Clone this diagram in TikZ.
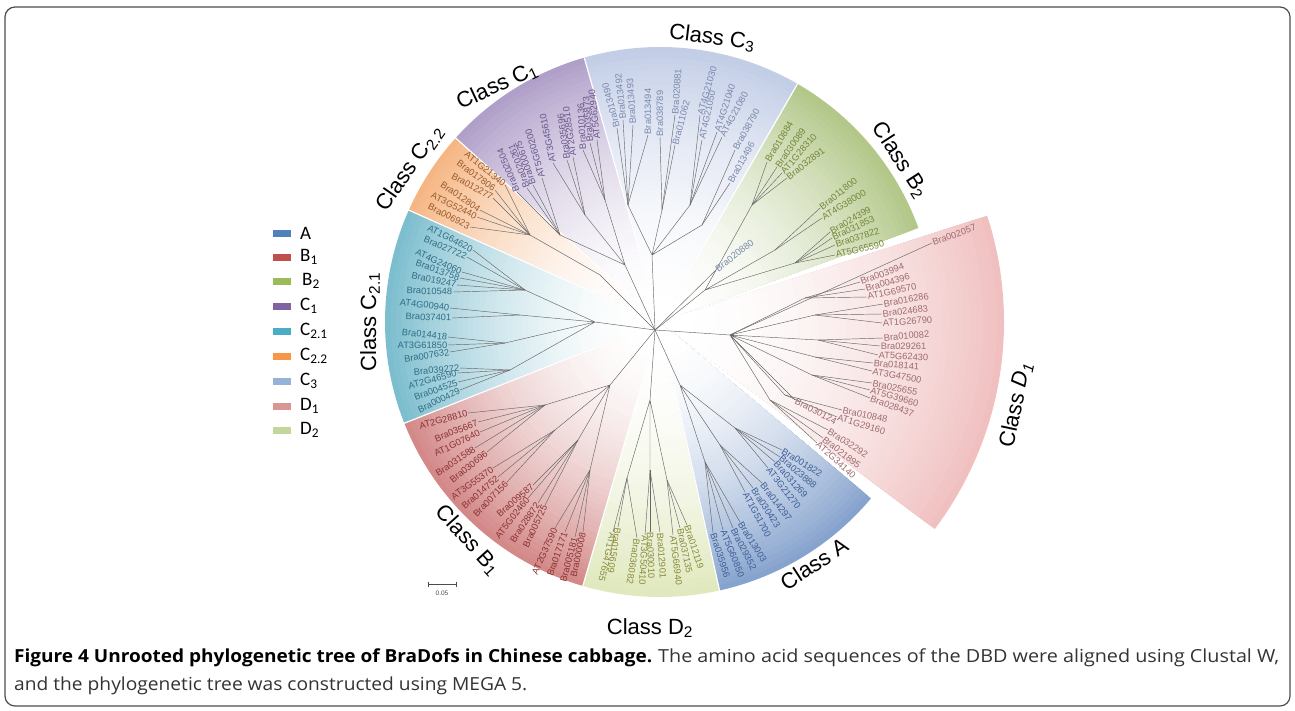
\documentclass[tikz,border=0pt]{standalone}
\usepackage{fontspec}
\usepackage{graphicx}
\setmainfont{Liberation Sans}
\newfontfamily\capfont{Open Sans}
\newfontfamily\legfont{Carlito}
\definecolor{cA}{HTML}{4F81BD}\definecolor{cBa}{HTML}{C0504D}\definecolor{cBb}{HTML}{9BBB59}
\definecolor{cCa}{HTML}{8064A2}\definecolor{cCba}{HTML}{4BACC6}\definecolor{cCbb}{HTML}{F79646}
\definecolor{cCc}{HTML}{95B3D7}\definecolor{cDa}{HTML}{D99694}\definecolor{cDb}{HTML}{C3D69B}
% sector outer colours
\definecolor{oA}{HTML}{86A3CE}\definecolor{oBa}{HTML}{D38988}\definecolor{oBb}{HTML}{B2C788}
\definecolor{oCa}{HTML}{B09FC9}\definecolor{oCba}{HTML}{7CBDCE}\definecolor{oCbb}{HTML}{F6B684}
\definecolor{oCc}{HTML}{C2CDE6}\definecolor{oDa}{HTML}{F0C0C0}\definecolor{oDb}{HTML}{E0E8BD}
% text colours
\definecolor{tA}{HTML}{3D5F95}\definecolor{tBa}{HTML}{8B3232}\definecolor{tBb}{HTML}{76853A}
\definecolor{tCa}{HTML}{6A568C}\definecolor{tCba}{HTML}{2F6E86}\definecolor{tCbb}{HTML}{9A5A2A}
\definecolor{tCc}{HTML}{7A89AD}\definecolor{tDa}{HTML}{9E6B6E}\definecolor{tDb}{HTML}{8A8A3C}
\newcommand\gradsector[4]{%
 \foreach \i in {50,49,...,1}{%
  \pgfmathsetmacro\rr{#4*(\i/50)}%
  \pgfmathtruncatemacro\pp{100*(\i/50)^2}%
  \fill[#1!\pp!white] (C) -- ++(#2:\rr) arc[start angle=#2, end angle=#3, radius=\rr] -- cycle;
 }}
\tikzset{
 lf/.style={font=\fontsize{9.3}{10}\selectfont, inner sep=0.6pt, text=#1},
 br/.style={draw=black!60, line width=0.45pt},
 cls/.style={font=\fontsize{22}{24}\selectfont, inner sep=0pt},
 legbox/.style={minimum width=18pt, minimum height=7pt, inner sep=0pt, draw=none},
 legtxt/.style={font=\legfont\fontsize{19}{20}\selectfont, anchor=west, inner sep=0pt},
 seam/.style={draw=white, line width=1.2pt},
 captxt/.style={anchor=base west, inner sep=0pt, font=\capfont\fontsize{18}{20}\selectfont, text=black!80}
}
\newcommand\LW[5]{\node[lf=#5,anchor=west,rotate=#4] (#1) at (#2,#3) {#1};}
\newcommand\LE[5]{\node[lf=#5,anchor=east,rotate=#4] (#1) at (#2,#3) {#1};}
\newcommand\BW[2]{\draw[br] (#1) -- (#2.west);}
\newcommand\BE[2]{\draw[br] (#1) -- (#2.east);}
\begin{document}
\begin{tikzpicture}[x=1pt,y=-1pt]
\useasboundingbox (0,0) rectangle (1295,710);
\coordinate (C) at (660,322);
% ---------- sectors ----------
\gradsector{oBb}{-20}{-60}{275}
\gradsector{oCc}{-60}{-106}{275}
\gradsector{oCa}{-106}{-138}{275}
\gradsector{oCbb}{-138}{-156}{275}
\gradsector{oCba}{-156}{-201.6}{275}
\gradsector{oBa}{-201.6}{-253.7}{275}
\gradsector{oDb}{-253.7}{-282.5}{275}
\gradsector{oA}{-282.5}{-320.1}{275}
\gradsector{oDa}{37}{-18}{344}
\foreach \a in {-60,-106,-138,-156,-201.6,-253.7,-282.5}{\draw[seam] (C) -- ++(\a:276);}
% ---------- tree: internal nodes ----------
\coordinate (O) at (655,330);
\coordinate (nC3) at (652,255);\coordinate (c3a) at (628,205);\coordinate (c3b) at (662,210);\coordinate (c3c) at (690,205);\coordinate (c3d) at (702,225);
\coordinate (nB2) at (705,290);\coordinate (b2a) at (752,205);\coordinate (b2b) at (775,250);\coordinate (b2c) at (795,263);
\coordinate (nD1) at (730,335);\coordinate (d1a) at (805,298);\coordinate (d1b) at (815,315);\coordinate (d1c) at (818,340);\coordinate (d1d) at (815,357);\coordinate (d1e) at (812,375);\coordinate (d1f) at (785,395);\coordinate (d1g) at (770,400);
\coordinate (nA) at (680,385);\coordinate (a1) at (735,428);\coordinate (a2) at (720,445);\coordinate (a3) at (705,462);
\coordinate (nD2) at (650,400);\coordinate (d2a) at (627,478);\coordinate (d2b) at (650,470);\coordinate (d2c) at (667,480);
\coordinate (nB1) at (610,385);\coordinate (b1a) at (545,405);\coordinate (b1b) at (555,430);\coordinate (b1c) at (578,440);\coordinate (b1d) at (590,470);
\coordinate (nC21) at (595,322);\coordinate (c21a) at (525,290);\coordinate (c21b) at (520,315);\coordinate (c21c) at (505,343);\coordinate (c21d) at (510,370);
\coordinate (nC22) at (600,275);\coordinate (c22a) at (530,235);
\coordinate (nC1) at (625,265);\coordinate (c1a) at (560,235);\coordinate (c1b) at (585,215);\coordinate (c1c) at (605,200);
\draw[br] (O) -- (nC3) (nC3) -- (c3a) (nC3) -- (c3b) (nC3) -- (c3c) (nC3) -- (c3d);
\draw[br] (O) -- (nB2) (nB2) -- (b2a) (nB2) -- (b2b) (nB2) -- (b2c);
\draw[br] (O) -- (nD1) (nD1) -- (d1a) (nD1) -- (d1b) (nD1) -- (d1c) (nD1) -- (d1d) (nD1) -- (d1e) (nD1) -- (d1f) (nD1) -- (d1g);
\draw[br] (O) -- (nA) (nA) -- (a1) (nA) -- (a2) (nA) -- (a3);
\draw[br] (O) -- (nD2) (nD2) -- (d2a) (nD2) -- (d2b) (nD2) -- (d2c);
\draw[br] (O) -- (nB1) (nB1) -- (b1a) (nB1) -- (b1b) (nB1) -- (b1c) (nB1) -- (b1d);
\draw[br] (O) -- (nC21) (nC21) -- (c21a) (nC21) -- (c21b) (nC21) -- (c21c) (nC21) -- (c21d);
\draw[br] (O) -- (nC22) (nC22) -- (c22a);
\draw[br] (O) -- (nC1) (nC1) -- (c1a) (nC1) -- (c1b) (nC1) -- (c1c);
% ---------- C3 ----------
\LW{Bra013490}{617}{128}{105}{tCc}\BW{c3a}{Bra013490}
\LW{Bra013492}{623}{120}{96}{tCc}\BW{c3a}{Bra013492}
\LW{Bra013493}{633}{125}{94}{tCc}\BW{c3a}{Bra013493}
\LW{Bra013494}{648}{135}{90}{tCc}\BW{c3a}{Bra013494}
\LW{Bra038789}{660}{137}{90}{tCc}\BW{c3b}{Bra038789}
\LW{Bra020881}{675}{115}{86}{tCc}\BW{c3b}{Bra020881}
\LW{Bra011062}{675}{145}{75}{tCc}\BW{c3b}{Bra011062}
\LW{AT4G21030}{700}{115}{74}{tCc}\BW{c3c}{AT4G21030}
\LW{AT4G21050}{702}{140}{78}{tCc}\BW{c3c}{AT4G21050}
\LW{AT4G21040}{717}{132}{72}{tCc}\BW{c3c}{AT4G21040}
\LW{AT4G21080}{722}{137}{62}{tCc}\BW{c3c}{AT4G21080}
\LW{Bra038790}{735}{150}{61}{tCc}\BW{c3d}{Bra038790}
\LW{Bra013496}{730}{183}{61}{tCc}\BW{c3d}{Bra013496}
\LW{Bra020880}{716}{270}{38}{tCc}\BW{O}{Bra020880}
% ---------- B2 ----------
\LW{Bra010884}{767}{162}{59}{tBb}\BW{b2a}{Bra010884}
\LW{Bra030089}{777}{167}{55}{tBb}\BW{b2a}{Bra030089}
\LW{AT1G28310}{782}{173}{49}{tBb}\BW{b2a}{AT1G28310}
\LW{Bra032891}{787}{178}{38}{tBb}\BW{b2a}{Bra032891}
\LW{Bra011800}{820}{208}{38}{tBb}\BW{b2b}{Bra011800}
\LW{AT4G38000}{822}{218}{31}{tBb}\BW{b2b}{AT4G38000}
\LW{Bra024399}{830}{232}{30}{tBb}\BW{b2c}{Bra024399}
\LW{Bra031853}{832}{238}{25}{tBb}\BW{b2c}{Bra031853}
\LW{Bra037822}{835}{245}{18}{tBb}\BW{b2c}{Bra037822}
\LW{AT5G65590}{835}{255}{13}{tBb}\BW{b2c}{AT5G65590}
% ---------- D1 ----------
\LW{Bra002057}{932}{243}{20}{tDa}\BW{nD1}{Bra002057}
\LW{Bra003994}{860}{282}{20}{tDa}\BW{d1a}{Bra003994}
\LW{Bra004396}{865}{289}{16}{tDa}\BW{d1a}{Bra004396}
\LW{AT1G69570}{867}{297}{12}{tDa}\BW{d1a}{AT1G69570}
\LW{Bra016286}{883}{304}{10}{tDa}\BW{d1b}{Bra016286}
\LW{Bra024683}{882}{314}{7}{tDa}\BW{d1b}{Bra024683}
\LW{AT1G26790}{882}{323}{4}{tDa}\BW{d1b}{AT1G26790}
\LW{Bra010082}{883}{338}{5}{tDa}\BW{d1c}{Bra010082}
\LW{Bra029261}{880}{346}{0}{tDa}\BW{d1c}{Bra029261}
\LW{AT5G62430}{878}{355}{-3}{tDa}\BW{d1c}{AT5G62430}
\LW{Bra018141}{873}{363}{-5}{tDa}\BW{d1d}{Bra018141}
\LW{AT3G47500}{872}{371}{-11}{tDa}\BW{d1d}{AT3G47500}
\LW{Bra025655}{872}{383}{-12}{tDa}\BW{d1e}{Bra025655}
\LW{AT5G39660}{870}{390}{-16}{tDa}\BW{d1e}{AT5G39660}
\LW{Bra028437}{870}{398}{-20}{tDa}\BW{d1e}{Bra028437}
\LW{Bra010848}{842}{410}{-12}{tDa}\BW{d1f}{Bra010848}
\LW{AT1G29160}{837}{417}{-17}{tDa}\BW{d1f}{AT1G29160}
\LW{Bra030124}{795}{400}{-28}{tDa}\BW{nD1}{Bra030124}
\LW{Bra032292}{828}{430}{-33}{tDa}\BW{d1g}{Bra032292}
\LW{Bra021895}{823}{438}{-38}{tDa}\BW{d1g}{Bra021895}
\LW{AT2G34140}{817}{443}{-42}{tDa}\BW{d1g}{AT2G34140}
% ---------- A ----------
\LW{Bra001822}{782}{450}{-32}{tA}\BW{a1}{Bra001822}
\LW{Bra023888}{780}{457}{-40}{tA}\BW{a1}{Bra023888}
\LW{Bra031269}{775}{462}{-48}{tA}\BW{a1}{Bra031269}
\LW{AT3G21270}{768}{468}{-52}{tA}\BW{a1}{AT3G21270}
\LW{Bra014297}{762}{483}{-53}{tA}\BW{a2}{Bra014297}
\LW{Bra030423}{753}{488}{-57}{tA}\BW{a2}{Bra030423}
\LW{AT1G51700}{745}{492}{-62}{tA}\BW{a2}{AT1G51700}
\LW{Bra013003}{740}{522}{-58}{tA}\BW{a3}{Bra013003}
\LW{Bra029352}{733}{528}{-63}{tA}\BW{a3}{Bra029352}
\LW{AT5G60850}{723}{530}{-68}{tA}\BW{a3}{AT5G60850}
\LW{Bra035956}{713}{533}{-72}{tA}\BW{a3}{Bra035956}
% ---------- D2 ----------
\LW{Bra015609}{618}{527}{-99}{tDb}\BW{d2a}{Bra015609}
\LW{AT1G47655}{613}{532}{-103}{tDb}\BW{d2a}{AT1G47655}
\LW{Bra036082}{637}{538}{-99}{tDb}\BW{d2a}{Bra036082}
\LW{AT3G50410}{645}{535}{-93}{tDb}\BW{d2b}{AT3G50410}
\LW{Bra030010}{650}{532}{-88}{tDb}\BW{d2b}{Bra030010}
\LW{Bra012901}{660}{532}{-86}{tDb}\BW{d2b}{Bra012901}
\LW{AT5G66940}{673}{535}{-83}{tDb}\BW{d2c}{AT5G66940}
\LW{Bra037135}{680}{528}{-78}{tDb}\BW{d2c}{Bra037135}
\LW{Bra012119}{687}{525}{-72}{tDb}\BW{d2c}{Bra012119}
% ---------- B1 ----------
\LE{AT2G28810}{468}{413}{15}{tBa}\BE{b1a}{AT2G28810}
\LE{Bra035667}{478}{422}{22}{tBa}\BE{b1a}{Bra035667}
\LE{AT1G07640}{480}{432}{26}{tBa}\BE{b1a}{AT1G07640}
\LE{Bra031588}{475}{448}{34}{tBa}\BE{b1a}{Bra031588}
\LE{Bra030696}{487}{452}{39}{tBa}\BE{b1a}{Bra030696}
\LE{AT3G55370}{493}{468}{36}{tBa}\BE{b1b}{AT3G55370}
\LE{Bra014752}{498}{477}{41}{tBa}\BE{b1b}{Bra014752}
\LE{Bra007156}{507}{482}{46}{tBa}\BE{b1b}{Bra007156}
\LE{Bra009587}{533}{485}{41}{tBa}\BE{b1c}{Bra009587}
\LE{AT5G02460}{528}{498}{52}{tBa}\BE{b1c}{AT5G02460}
\LE{Bra028872}{538}{503}{56}{tBa}\BE{b1c}{Bra028872}
\LE{Bra005725}{545}{505}{65}{tBa}\BE{b1c}{Bra005725}
\LE{AT2G37590}{555}{528}{66}{tBa}\BE{b1d}{AT2G37590}
\LE{Bra017171}{565}{532}{71}{tBa}\BE{b1d}{Bra017171}
\LE{Bra005181}{575}{537}{75}{tBa}\BE{b1d}{Bra005181}
\LE{Bra000008}{583}{532}{78}{tBa}\BE{b1d}{Bra000008}
% ---------- C2.1 ----------
\LE{AT1G64620}{473}{250}{-27}{tCba}\BE{c21a}{AT1G64620}
\LE{Bra027722}{467}{257}{-23}{tCba}\BE{c21a}{Bra027722}
\LE{AT4G24060}{462}{272}{-24}{tCba}\BE{c21a}{AT4G24060}
\LE{Bra013758}{460}{278}{-19}{tCba}\BE{c21a}{Bra013758}
\LE{Bra019247}{457}{285}{-12}{tCba}\BE{c21a}{Bra019247}
\LE{Bra010548}{453}{292}{-2}{tCba}\BE{c21a}{Bra010548}
\LE{AT4G00940}{450}{308}{-7}{tCba}\BE{c21b}{AT4G00940}
\LE{Bra037401}{452}{318}{-2}{tCba}\BE{c21b}{Bra037401}
\LE{Bra014418}{448}{337}{-6}{tCba}\BE{c21c}{Bra014418}
\LE{AT3G61850}{448}{345}{0}{tCba}\BE{c21c}{AT3G61850}
\LE{Bra007632}{450}{352}{9}{tCba}\BE{c21c}{Bra007632}
\LE{Bra039272}{460}{368}{5}{tCba}\BE{c21d}{Bra039272}
\LE{AT2G46590}{457}{373}{15}{tCba}\BE{c21d}{AT2G46590}
\LE{Bra004525}{458}{382}{20}{tCba}\BE{c21d}{Bra004525}
\LE{Bra000429}{460}{390}{26}{tCba}\BE{c21d}{Bra000429}
% ---------- C2.2 ----------
\LE{AT1G21340}{505}{185}{-39}{tCbb}\BE{c22a}{AT1G21340}
\LE{Bra017806}{495}{190}{-37}{tCbb}\BE{c22a}{Bra017806}
\LE{Bra012277}{493}{198}{-29}{tCbb}\BE{c22a}{Bra012277}
\LE{Bra012804}{480}{210}{-34}{tCbb}\BE{c22a}{Bra012804}
\LE{AT3G52440}{477}{217}{-26}{tCbb}\BE{c22a}{AT3G52440}
\LE{Bra006923}{470}{227}{-27}{tCbb}\BE{c22a}{Bra006923}
% ---------- C1 ----------
\LW{Bra002504}{517}{192}{112}{tCa}\BW{c1a}{Bra002504}
\LW{Bra020261}{527}{188}{110}{tCa}\BW{c1a}{Bra020261}
\LW{Bra000675}{533}{185}{109}{tCa}\BW{c1a}{Bra000675}
\LW{AT5G60200}{542}{178}{106}{tCa}\BW{c1a}{AT5G60200}
\LW{AT3G45610}{553}{163}{102}{tCa}\BW{c1b}{AT3G45610}
\LW{Bra035696}{567}{160}{98}{tCa}\BW{c1b}{Bra035696}
\LW{AT2G28510}{573}{157}{98}{tCa}\BW{c1b}{AT2G28510}
\LW{Bra010136}{583}{150}{93}{tCa}\BW{c1c}{Bra010136}
\LW{Bra035873}{590}{143}{95}{tCa}\BW{c1c}{Bra035873}
\LW{AT5G62940}{597}{140}{96}{tCa}\BW{c1c}{AT5G62940}
% ---------- class labels ----------
\node[cls,rotate=-7] (lC3) at (712,38) {Class C\textsubscript{3}};
\node[cls,rotate=-57] (lB2) at (900,160) {Class B\textsubscript{2}};
\node[cls,rotate=78] (lD1) at (1016,405) {Class \textit{D}\textsubscript{\textit{1}}};
\node[cls,rotate=33] (lA) at (814,564) {Class A};
\node[cls] (lD2) at (650,628) {Class D\textsubscript{2}};
\node[cls,rotate=-48] (lB1) at (468,540) {Class B\textsubscript{1}};
\node[cls,rotate=90] (lC21) at (370,322) {Class C\textsubscript{2.1}};
\node[cls,rotate=55] (lC22) at (410,168) {Class C\textsubscript{2.2}};
\node[cls,rotate=25] (lC1) at (497,86) {Class C\textsubscript{1}};
% ---------- legend ----------
\node[legbox,fill=cA] (kA) at (282,233) {};\node[legtxt] (tkA) at (300,233) {A};
\node[legbox,fill=cBa] (kB1) at (282,257) {};\node[legtxt] (tkB1) at (300,257) {B\textsubscript{1}};
\node[legbox,fill=cBb] (kB2) at (282,281) {};\node[legtxt] (tkB2) at (302,281) {B\textsubscript{2}};
\node[legbox,fill=cCa] (kC1) at (282,306) {};\node[legtxt] (tkC1) at (300,306) {C\textsubscript{1}};
\node[legbox,fill=cCba] (kC21) at (282,331) {};\node[legtxt] (tkC21) at (300,331) {C\textsubscript{2.1}};
\node[legbox,fill=cCbb] (kC22) at (282,356) {};\node[legtxt] (tkC22) at (300,356) {C\textsubscript{2.2}};
\node[legbox,fill=cCc] (kC3) at (282,381) {};\node[legtxt] (tkC3) at (300,381) {C\textsubscript{3}};
\node[legbox,fill=cDa] (kD1) at (282,406) {};\node[legtxt] (tkD1) at (300,406) {D\textsubscript{1}};
\node[legbox,fill=cDb] (kD2) at (282,430) {};\node[legtxt] (tkD2) at (300,430) {D\textsubscript{2}};
% ---------- scale bar ----------
\coordinate (s1) at (428,584);\coordinate (s2) at (456,584);
\draw[black!70,line width=0.6pt] (s1) -- (s2) (s1)++(0,-2.5) -- ++(0,5) (s2)++(0,-2.5) -- ++(0,5);
\node[font=\fontsize{6.5}{7}\selectfont, text=black!70] (sbl) at (442,593) {0.05};
% ---------- caption ----------
\node[captxt, text=black] (cap1a) at (14,662) {\resizebox{638pt}{\height}{\bfseries Figure 4 Unrooted phylogenetic tree of BraDofs in Chinese cabbage.}};
\node[captxt] (cap1b) at (658,662) {\resizebox{621pt}{\height}{The amino acid sequences of the DBD were aligned using Clustal W,}};
\node[captxt] (cap2) at (14,690) {\resizebox{513pt}{\height}{and the phylogenetic tree was constructed using MEGA 5.}};
% ---------- frame ----------
\draw[rounded corners=10pt, line width=1.2pt, black!70] (5,7) rectangle (1290,706);
\end{tikzpicture}
\end{document}
